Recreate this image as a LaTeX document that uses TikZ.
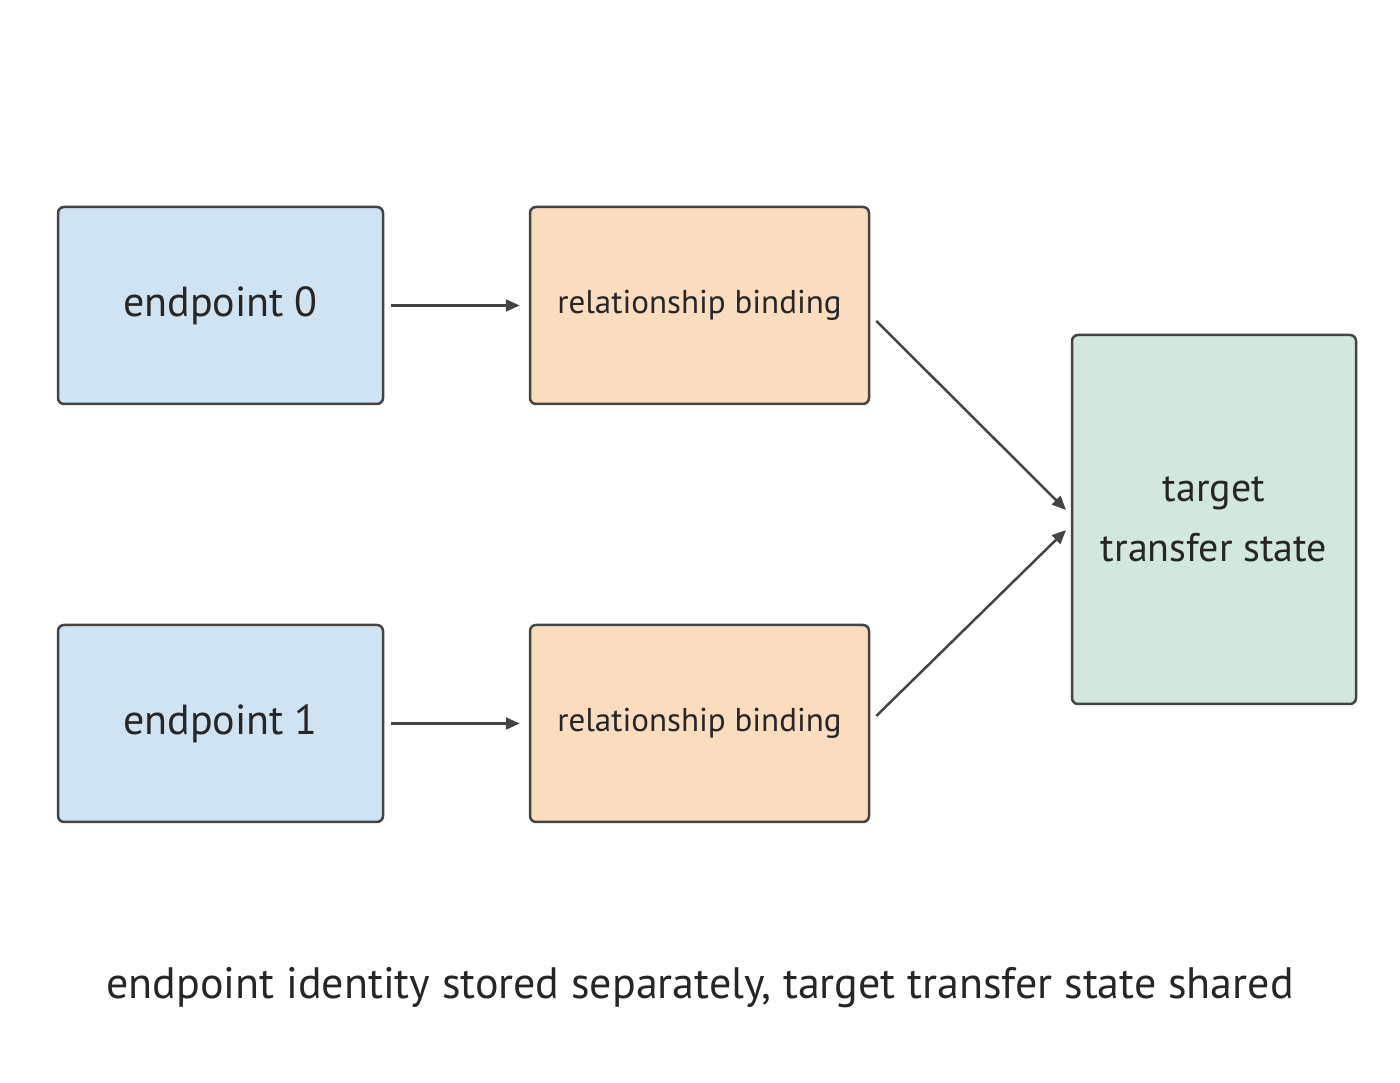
\documentclass[tikz,border=0pt]{standalone}
\usepackage{fontspec}
\setmainfont{PT Sans}
\usetikzlibrary{arrows.meta}
\definecolor{bfill}{HTML}{CFE3F2}
\definecolor{ofill}{HTML}{F9DDBE}
\definecolor{gfill}{HTML}{D2E8DC}
\definecolor{edge}{HTML}{444444}
\begin{document}
\begin{tikzpicture}[x=1pt,y=1pt,
  box/.style={draw=edge,line width=2.5pt,rounded corners=6pt,inner sep=0pt,text=black!85},
  arr/.style={draw=edge,line width=2.5pt,-{Triangle[length=14pt,width=12pt]}}]
\useasboundingbox (0,0) rectangle (1400,1083);
\node[box,fill=bfill,minimum width=325,minimum height=197,font=\fontsize{42}{50}\selectfont] (e0) at (220.5,777.5) {endpoint 0};
\node[box,fill=bfill,minimum width=325,minimum height=197,font=\fontsize{42}{50}\selectfont] (e1) at (220.5,359.5) {endpoint 1};
\node[box,fill=ofill,minimum width=339,minimum height=197,font=\fontsize{33}{40}\selectfont] (r0) at (699.5,777.5) {relationship binding};
\node[box,fill=ofill,minimum width=339,minimum height=197,font=\fontsize{33}{40}\selectfont] (r1) at (699.5,359.5) {relationship binding};
\node[box,fill=gfill,minimum width=284,minimum height=369,font=\fontsize{40}{60}\selectfont,align=center] (t) at (1214,563.5) {target\\transfer state};
\coordinate (t0) at (1066,573);
\coordinate (t1) at (1066,553);
\draw[arr,shorten <=7pt,shorten >=9pt] (e0.east) -- (r0.west);
\draw[arr,shorten <=7pt,shorten >=9pt] (e1.east) -- (r1.west);
\draw[arr] ([xshift=6pt,yshift=-8pt]r0.north east |- 0,770) -- (t0);
\draw[arr] ([xshift=6pt]r1.east |- 0,367) -- (t1);
\node[font=\fontsize{44}{52}\selectfont,text=black!85] (cap) at (700,95) {endpoint identity stored separately, target transfer state shared};
\end{tikzpicture}
\end{document}
